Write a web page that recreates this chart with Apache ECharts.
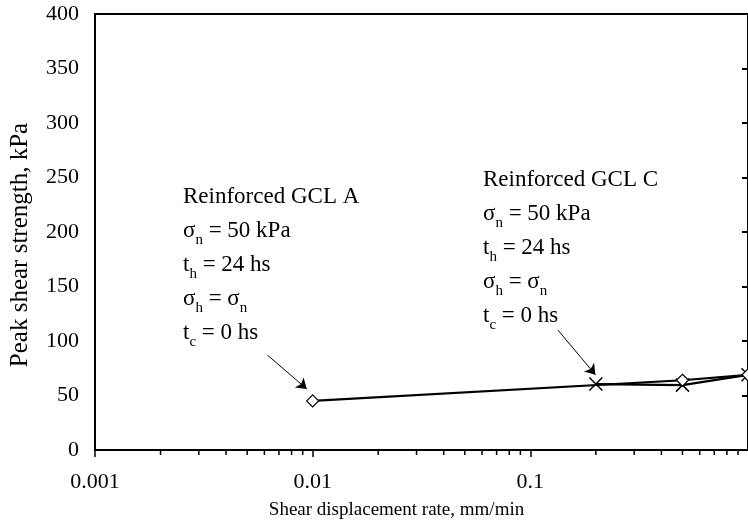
<!DOCTYPE html>
<html>
<head>
<meta charset="utf-8">
<script src="https://cdn.jsdelivr.net/npm/echarts@6/dist/echarts.min.js"></script>
<style>
  html, body { margin: 0; padding: 0; background: #fff; overflow: hidden; }
  #chart { width: 748px; height: 527px; }
</style>
</head>
<body>
<div id="chart"></div>
<script>
// GCL A (diamonds) and GCL C (crosses): rate in mm/min, peak strength in kPa
const rateA = [0.01, 0.5, 1];
const strengthA = [45, 64, 69];
const rateC = [0.2, 0.5, 1];
const strengthC = [60.5, 59.5, 69];

// minor ticks of the log axis (2..9 in each decade)
const minorTicks = [
  0.002, 0.003, 0.004, 0.005, 0.006, 0.007, 0.008, 0.009,
  0.02, 0.03, 0.04, 0.05, 0.06, 0.07, 0.08, 0.09,
  0.2, 0.3, 0.4, 0.5, 0.6, 0.7, 0.8, 0.9
];

// arrows from the notes to the points: [from, to] as [rate, kPa]
const arrowA = [[0.0062, 87], [0.0094, 56]];
const arrowC = [[0.134, 110], [0.199, 69]];

const noteA = ['Reinforced GCL A', 'σ{s|n} = 50 kPa', 't{s|h} = 24 hs', 'σ{s|h} = σ{s|n}', 't{s|c} = 0 hs'];
const noteC = ['Reinforced GCL C', 'σ{s|n} = 50 kPa', 't{s|h} = 24 hs', 'σ{s|h} = σ{s|n}', 't{s|c} = 0 hs'];

const serif = "'Liberation Serif', 'Times New Roman', serif";
const crossPath = 'path://M0,0L10,10M10,0L0,10';

const chart = echarts.init(document.getElementById('chart'));

function note(lines, left, top) {
  return {
    type: 'text',
    left: left,
    top: top,
    silent: true,
    style: {
      text: lines.join('\n'),
      fill: '#000',
      fontFamily: serif,
      fontSize: 23,
      lineHeight: 34,
      rich: {
        s: { fontFamily: serif, fontSize: 15, lineHeight: 16, verticalAlign: 'bottom', fill: '#000' }
      }
    }
  };
}

function arrowLine(a) {
  return [{ coord: a[0], symbol: 'none' }, { coord: a[1], symbol: 'arrow' }];
}

const options = {
  backgroundColor: '#fff',
  animation: false,
  grid: {
    left: 94,
    top: 14,
    right: -3,
    bottom: 77,
    show: true,
    borderColor: '#000',
    borderWidth: 2,
    backgroundColor: 'transparent'
  },
  xAxis: {
    type: 'log',
    logBase: 10,
    min: 0.001,
    max: 1,
    name: 'Shear displacement rate, mm/min',
    nameLocation: 'middle',
    nameGap: 51,
    nameTextStyle: { fontFamily: serif, fontSize: 19, color: '#000', padding: [0, 50, 0, 0] },
    axisLine: { lineStyle: { color: '#000', width: 2 } },
    axisTick: { show: true, inside: false, length: 7, lineStyle: { color: '#000', width: 1.5 } },
    axisLabel: {
      fontFamily: serif, fontSize: 22, color: '#000', margin: 21,
      showMaxLabel: false,
      formatter: function (v) { return String(+v.toPrecision(3)); }
    },
    splitLine: { show: false },
    minorTick: { show: false }
  },
  yAxis: [{
    type: 'value',
    min: 0,
    max: 400,
    interval: 50,
    name: 'Peak shear strength, kPa',
    nameLocation: 'middle',
    nameGap: 62,
    nameTextStyle: { fontFamily: serif, fontSize: 25, color: '#000', padding: [0, 26, 0, 0] },
    axisLine: { show: true, lineStyle: { color: '#000', width: 2 } },
    axisTick: { show: false },
    axisLabel: { fontFamily: serif, fontSize: 22, color: '#000', margin: 16 },
    splitLine: { show: false }
  }, {
    type: 'value',
    position: 'right',
    min: 0,
    max: 400,
    interval: 50,
    axisLine: { show: true, lineStyle: { color: '#000', width: 2 } },
    axisTick: { show: true, inside: true, length: 6, lineStyle: { color: '#000', width: 2 } },
    axisLabel: { show: false },
    splitLine: { show: false }
  }],
  series: [{
    name: 'GCL C',
    type: 'line',
    data: rateC.map((r, i) => [r, strengthC[i]]),
    symbol: crossPath,
    symbolSize: 13,
    clip: false,
    lineStyle: { color: '#000', width: 2.2 },
    itemStyle: { color: '#000', borderColor: '#000', borderWidth: 1.5 },
    markLine: {
      silent: true,
      symbolSize: 10,
      label: { show: false },
      lineStyle: { color: '#000', width: 1, type: 'solid' },
      data: [arrowLine(arrowA), arrowLine(arrowC)]
    },
    z: 3
  }, {
    name: 'GCL A',
    type: 'line',
    data: rateA.map((r, i) => [r, strengthA[i]]),
    symbol: 'diamond',
    symbolSize: 12,
    clip: false,
    lineStyle: { color: '#000', width: 2.2 },
    itemStyle: { color: '#fff', borderColor: '#000', borderWidth: 1.2 },
    z: 4
  }, {
    name: 'minor ticks',
    type: 'custom',
    clip: false,
    silent: true,
    data: minorTicks.map(v => [v, 0]),
    renderItem: function (params, api) {
      const p = api.coord([api.value(0), 0]);
      return {
        type: 'line',
        shape: { x1: p[0], y1: p[1], x2: p[0], y2: p[1] + 5 },
        style: { stroke: '#000', lineWidth: 1.5 }
      };
    },
    z: 5
  }],
  graphic: [
    note(noteA, 183, 180),
    note(noteC, 483, 163)
  ]
};

chart.setOption(options);
</script>
</body>
</html>
